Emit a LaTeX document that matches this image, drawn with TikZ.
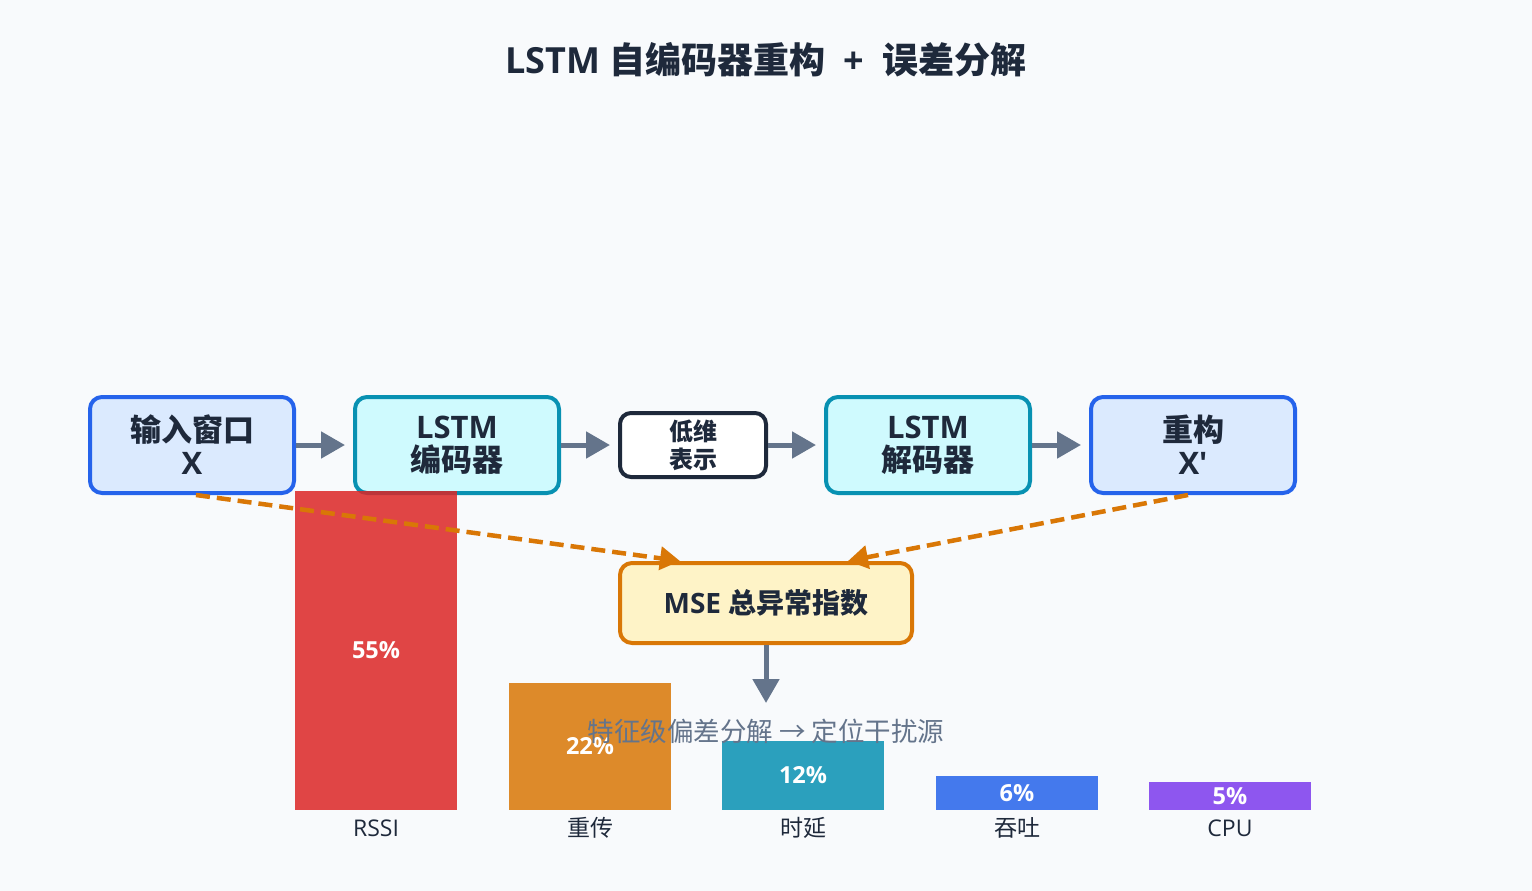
\documentclass[tikz,border=0pt]{standalone}
\usepackage{fontspec}
\newfontfamily\lat{Open Sans}
\newfontfamily\cjk{Noto Sans CJK SC}
\usetikzlibrary{arrows.meta}
\definecolor{bg}{HTML}{F8FAFC}
\definecolor{ink}{HTML}{1E293B}
\definecolor{slate}{HTML}{64748B}
\definecolor{blueE}{HTML}{2563EB}
\definecolor{blueF}{HTML}{DBEAFE}
\definecolor{cyanE}{HTML}{0891B2}
\definecolor{cyanF}{HTML}{CFFAFE}
\definecolor{amberE}{HTML}{D97706}
\definecolor{amberF}{HTML}{FEF3C7}
\definecolor{barred}{HTML}{DC2626}
\definecolor{barorange}{HTML}{D97706}
\definecolor{barteal}{HTML}{0891B2}
\definecolor{barblue}{HTML}{2563EB}
\definecolor{barviolet}{HTML}{7C3AED}
\tikzset{
  stage/.style={draw, line width=4pt, rounded corners=12pt, align=center,
    minimum width=204pt, minimum height=96pt, text=ink,
    font=\lat\fontsize{31}{33}\selectfont\bfseries},
  inbox/.style={stage, draw=blueE, fill=blueF},
  lstmbox/.style={stage, draw=cyanE, fill=cyanF},
  codebox/.style={draw=ink, fill=white, line width=4pt, rounded corners=11pt,
    align=center, minimum width=146pt, minimum height=64pt, text=ink,
    font=\lat\fontsize{24}{28}\selectfont\bfseries},
  msebox/.style={draw=amberE, fill=amberF, line width=4pt, rounded corners=12pt,
    minimum width=292pt, minimum height=80pt, text=ink,
    font=\lat\fontsize{28}{32}\selectfont\bfseries},
  flow/.style={draw=slate, line width=5pt,
    -{Triangle[length=24pt,width=26pt]}},
  errflow/.style={draw=amberE, line width=4.5pt, dash pattern=on 14pt off 7pt,
    -{Triangle[length=20pt,width=23pt]}},
  bar/.style={fill opacity=0.85, text opacity=1, draw=none, inner sep=0pt,
    minimum width=162pt, anchor=south, text=white,
    font=\lat\fontsize{23.5}{25}\selectfont\bfseries},
  barlabel/.style={text=ink, font=\lat\fontsize{23}{25}\selectfont},
}
\begin{document}
\begin{tikzpicture}[x=1pt,y=-1pt]
\fill[bg] (0,0) rectangle (1532,891);
\useasboundingbox (0,0) rectangle (1532,891);

% title
\node[text=ink, font=\lat\fontsize{36}{38}\selectfont\bfseries] (title) at (766,60)
  {LSTM {\cjk 自编码器重构}\hspace{0.25em} + \hspace{0.25em}{\cjk 误差分解}};

% autoencoder pipeline
\node[inbox]   (inp) at (192,445) {{\cjk 输入窗口}\\X};
\node[lstmbox] (enc) at (457,445) {LSTM\\{\cjk 编码器}};
\node[codebox] (lat) at (693,445) {{\cjk 低维}\\{\cjk 表示}};
\node[lstmbox] (dec) at (928,445) {LSTM\\{\cjk 解码器}};
\node[inbox]   (rec) at (1193,445) {{\cjk 重构}\\X'};
\node[msebox]  (mse) at (766,603) {MSE {\cjk 总异常指数}};

\draw[flow] (inp.east) -- ([xshift=-8pt]enc.west);
\draw[flow] (enc.east) -- ([xshift=-8pt]lat.west);
\draw[flow] (lat.east) -- ([xshift=-8pt]dec.west);
\draw[flow] (dec.east) -- ([xshift=-8pt]rec.west);

% per-feature error share
\node[bar, fill=barred,    minimum height=319pt] (b1) at (376,810)  {55\%};
\node[bar, fill=barorange, minimum height=127pt] (b2) at (590,810)  {22\%};
\node[bar, fill=barteal,   minimum height=69pt]  (b3) at (803,810)  {12\%};
\node[bar, fill=barblue,   minimum height=34pt]  (b4) at (1017,810) {6\%};
\node[bar, fill=barviolet, minimum height=28pt]  (b5) at (1230,810) {5\%};

\node[barlabel] (l1) at (376,828)  {RSSI};
\node[barlabel] (l2) at (590,828)  {\cjk 重传};
\node[barlabel] (l3) at (803,828)  {\cjk 时延};
\node[barlabel] (l4) at (1017,828) {\cjk 吞吐};
\node[barlabel] (l5) at (1230,828) {CPU};

% reconstruction error paths
\coordinate (mseL) at ([xshift=-86pt]mse.north);
\coordinate (mseR) at ([xshift=82pt]mse.north);
\draw[errflow] ([xshift=4pt]inp.south) -- (mseL);
\draw[errflow] ([xshift=-5pt]rec.south) -- (mseR);

\coordinate (capTop) at (766,703);
\draw[flow] (mse.south) -- (capTop);

\node[text=slate, font=\fontsize{26.5}{28}\selectfont] (cap) at (766,731)
  {\cjk 特征级偏差分解 → 定位干扰源};
\end{tikzpicture}
\end{document}
